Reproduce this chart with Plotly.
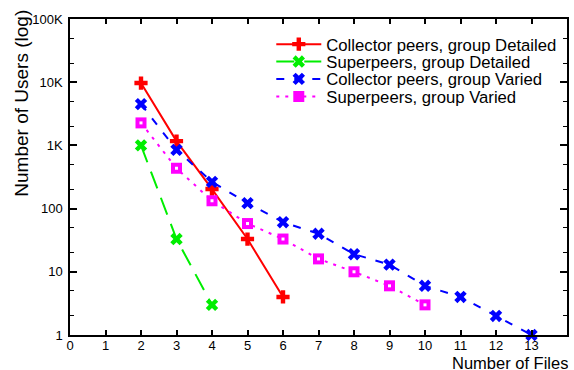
import plotly.graph_objects as go

files_cd = [2, 3, 4, 5, 6]
users_cd = [9700, 1170, 204, 33, 4]

files_sd = [2, 3, 4]
users_sd = [1000, 33, 3]

files_cv = [2, 3, 4, 5, 6, 7, 8, 9, 10, 11, 12, 13]
users_cv = [4500, 850, 265, 122, 61, 40, 19, 13, 6, 4, 2, 1]

files_sv = [2, 3, 4, 5, 6, 7, 8, 9, 10]
users_sv = [2270, 435, 133, 58, 33, 16, 10, 6, 3]

x_ticks = list(range(0, 15))
y_tickvals = [1, 10, 100, 1000, 10000, 100000]
y_ticktext = ["1", "10", "100", "1K", "10K", "100K"]
y_minor = [m * 10 ** d for d in range(0, 5) for m in (2, 5)]

FONT = "Liberation Sans, Arial, sans-serif"

fig = go.Figure()
fig.add_trace(go.Scatter(x=files_cd, y=users_cd, mode="lines+markers",
                         name="Collector peers, group Detailed", legend="legend",
                         cliponaxis=False,
                         line=dict(color="#ff0000", width=2, dash="solid"),
                         marker=dict(symbol="cross", size=11, color="#ff0000")))
fig.add_trace(go.Scatter(x=files_sd, y=users_sd, mode="lines+markers",
                         name="Superpeers, group Detailed", legend="legend2",
                         cliponaxis=False,
                         line=dict(color="#00ee00", width=2, dash="18px,10px"),
                         marker=dict(symbol="x", size=11, color="#00ee00")))
fig.add_trace(go.Scatter(x=files_cv, y=users_cv, mode="lines+markers",
                         name="Collector peers, group Varied", legend="legend3",
                         cliponaxis=False,
                         line=dict(color="#0000ff", width=2, dash="8px,10px"),
                         marker=dict(symbol="x", size=11, color="#0000ff")))
fig.add_trace(go.Scatter(x=files_sv, y=users_sv, mode="lines+markers",
                         name="Superpeers, group Varied", legend="legend4",
                         cliponaxis=False,
                         line=dict(color="#ff00ff", width=2, dash="3px,6px"),
                         marker=dict(symbol="square", size=11, color="#ff00ff")))
fig.add_trace(go.Scatter(x=files_sv, y=users_sv, mode="markers", showlegend=False,
                         hoverinfo="skip", cliponaxis=False,
                         marker=dict(symbol="square", size=3, color="white")))

axis_common = dict(showline=True, linecolor="black", linewidth=1.5, mirror="allticks",
                   ticks="inside", tickcolor="black", showgrid=False, zeroline=False,
                   tickfont=dict(family=FONT, size=13, color="black"))

fig.update_xaxes(range=[0, 14], tickvals=x_ticks, ticklen=5, tickwidth=1.5,
                 ticklabelstandoff=-2, **axis_common)
fig.update_yaxes(type="log", range=[0, 5], tickvals=y_tickvals, ticktext=y_ticktext,
                 ticklen=7, tickwidth=1.5, ticklabelstandoff=3,
                 minor=dict(tickvals=y_minor, ticks="inside", ticklen=4, tickcolor="black",
                            tickwidth=1.2),
                 **axis_common)

fig.add_annotation(text="Number of Users (log)", x=-0.098, y=0.733, xref="paper", yref="paper",
                   xanchor="center", yanchor="middle", textangle=-90, showarrow=False,
                   font=dict(family=FONT, size=19, color="black"))

fig.add_annotation(text="Number of Files", x=1, y=0, xref="paper", yref="paper",
                   xanchor="right", yanchor="top", yshift=-17, xshift=3, showarrow=False,
                   height=17, font=dict(family=FONT, size=16.5, color="black"))

leg_common = dict(x=0.405, xanchor="left", yanchor="middle", bgcolor="rgba(0,0,0,0)",
                  font=dict(family=FONT, size=16.7, color="black"), itemwidth=45)
fig.update_layout(
    width=574, height=370,
    margin=dict(l=70, r=5, t=19, b=35),
    paper_bgcolor="white", plot_bgcolor="white",
    font=dict(family=FONT, color="black"),
    legend=dict(y=0.92, **leg_common),
    legend2=dict(y=0.865, **leg_common),
    legend3=dict(y=0.81, **leg_common),
    legend4=dict(y=0.754, **leg_common),
)

fig.write_html("out.html")
